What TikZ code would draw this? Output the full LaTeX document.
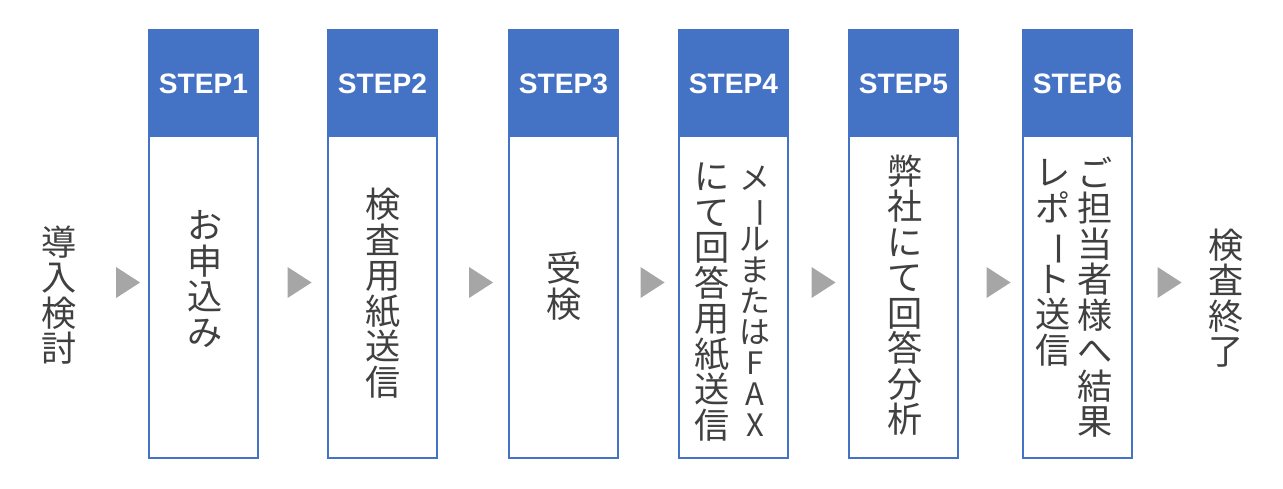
\documentclass[tikz,border=0pt]{standalone}
\usepackage{fontspec}
\usepackage{graphicx}
\setsansfont{Liberation Sans}
\newfontfamily\jpfont{Noto Sans CJK JP}
\usetikzlibrary{shapes.geometric}

\definecolor{stepblue}{HTML}{4472C4}
\definecolor{markgray}{HTML}{A6A6A6}
\definecolor{txtgray}{HTML}{404040}

% long vowel mark turned upright for vertical text
\newcommand{\vchoon}{\rotatebox[origin=c]{-90}{ー}}
% keep a fixed line pitch in the stacked texts
\newcommand{\tightlines}{\lineskiplimit=-100pt\relax}

\tikzset{
  stepbody/.style={draw=stepblue, line width=1.1pt, fill=white,
    minimum width=2.18cm, minimum height=8.54cm, anchor=north, inner sep=0},
  stephead/.style={fill=stepblue, minimum width=2.22cm, minimum height=2.16cm,
    anchor=north, inner sep=0, text=white,
    font=\sffamily\bfseries\fontsize{16pt}{18pt}\selectfont},
  vtext/.style={align=center, inner sep=0, text=txtgray,
    font=\jpfont\fontsize{20pt}{20.2pt}\selectfont\tightlines},
  vtextnarrow/.style={vtext,
    font=\jpfont\fontsize{17.6pt}{17.6pt}\selectfont\tightlines},
  nextmark/.style={isosceles triangle, isosceles triangle stretches,
    fill=markgray, minimum width=0.62cm, minimum height=0.48cm, inner sep=0},
}

\begin{document}
\begin{tikzpicture}[x=0.02cm, y=-0.02cm]

  \useasboundingbox (0,0) rectangle (1283,488);

  % Step boxes
  \node[stepbody] (body1) at ( 203.5, 30) {};
  \node[stepbody] (body2) at ( 382.5, 30) {};
  \node[stepbody] (body3) at ( 563.5, 30) {};
  \node[stepbody] (body4) at ( 733.5, 30) {};
  \node[stepbody] (body5) at ( 903.5, 30) {};
  \node[stepbody] (body6) at (1077.5, 30) {};

  \node[stephead] (head1) at ( 203.5, 29) {STEP1};
  \node[stephead] (head2) at ( 382.5, 29) {STEP2};
  \node[stephead] (head3) at ( 563.5, 29) {STEP3};
  \node[stephead] (head4) at ( 733.5, 29) {STEP4};
  \node[stephead] (head5) at ( 903.5, 29) {STEP5};
  \node[stephead] (head6) at (1077.5, 29) {STEP6};

  % Gray markers between the steps
  \node[nextmark] (mark1) at ( 124.5, 282.5) {};
  \node[nextmark] (mark2) at ( 296,   282.5) {};
  \node[nextmark] (mark3) at ( 477.5, 282.5) {};
  \node[nextmark] (mark4) at ( 649,   282.5) {};
  \node[nextmark] (mark5) at ( 820,   282.5) {};
  \node[nextmark] (mark6) at ( 995,   282.5) {};
  \node[nextmark] (mark7) at (1166,   282.5) {};

  % Vertical texts
  \node[vtext] (start) at (59, 295) {導\\入\\検\\討};

  \node[vtext] (txt1) at (205, 279) {お\\申\\込\\み};
  \node[vtext] (txt2) at (383, 293) {検\\査\\用\\紙\\送\\信};
  \node[vtext] (txt3) at (564, 286) {受\\検};

  \node[vtextnarrow] (txt4a) at (755, 301) {メ\\\vchoon\\ル\\ま\\た\\は\\F\\A\\X};
  \node[vtext]       (txt4b) at (712, 302) {に\\て\\回\\答\\用\\紙\\送\\信};

  \node[vtext] (txt5) at (905, 295) {弊\\社\\に\\て\\回\\答\\分\\析};

  \node[vtext] (txt6a) at (1095, 297) {ご\\担\\当\\者\\様\\へ\\結\\果};
  \node[vtext] (txt6b) at (1053, 263) {レ\\ポ\\\vchoon\\ト\\送\\信};

  \node[vtext] (finish) at (1226, 298) {検\\査\\終\\了};

\end{tikzpicture}
\end{document}
